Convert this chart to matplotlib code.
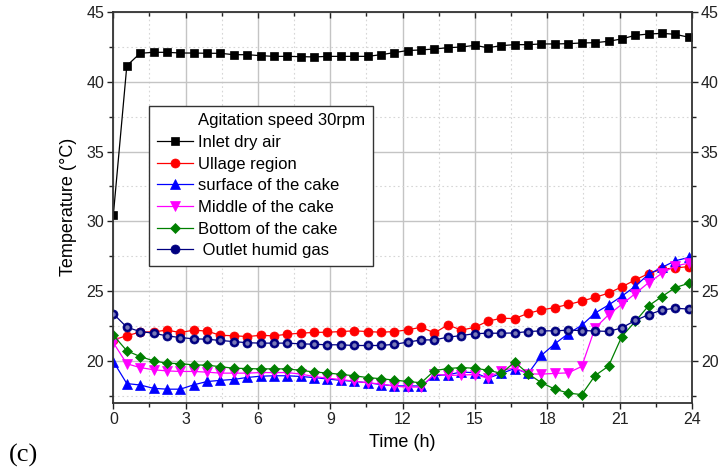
import numpy as np
import matplotlib
matplotlib.use("Agg")
import matplotlib.pyplot as plt
from matplotlib.lines import Line2D
from matplotlib.ticker import MultipleLocator

plt.rcParams['font.family'] = ['Liberation Sans', 'DejaVu Sans']

# sampling times (h)
time_h = [0.00, 0.56, 1.11, 1.67, 2.22, 2.78, 3.33, 3.89, 4.44, 5.00, 5.55,
          6.11, 6.66, 7.22, 7.77, 8.33, 8.88, 9.44, 9.99, 10.55, 11.10, 11.66,
          12.21, 12.77, 13.32, 13.88, 14.43, 14.99, 15.54, 16.10, 16.65, 17.21,
          17.76, 18.32, 18.87, 19.43, 19.98, 20.54, 21.09, 21.65, 22.20, 22.76,
          23.31, 23.87]

inlet_dry_air = [30.45, 41.15, 42.04, 42.11, 42.11, 42.06, 42.06, 42.04, 42.04,
                 41.94, 41.94, 41.87, 41.82, 41.82, 41.80, 41.78, 41.82, 41.82,
                 41.82, 41.82, 41.94, 42.09, 42.24, 42.28, 42.35, 42.44, 42.49,
                 42.61, 42.44, 42.59, 42.66, 42.66, 42.71, 42.71, 42.73, 42.78,
                 42.80, 42.90, 43.07, 43.33, 43.42, 43.47, 43.40, 43.19]

ullage_region = [21.50, 21.80, 22.06, 22.08, 22.20, 22.03, 22.20, 22.13, 21.83,
                 21.80, 21.74, 21.83, 21.79, 21.91, 21.98, 22.04, 22.05, 22.10,
                 22.15, 22.10, 22.05, 22.10, 22.22, 22.41, 22.00, 22.58, 22.20,
                 22.40, 22.85, 23.05, 23.03, 23.41, 23.65, 23.82, 24.04, 24.28,
                 24.55, 24.85, 25.30, 25.80, 26.25, 26.57, 26.65, 26.76]

cake_surface = [19.95, 18.37, 18.27, 18.03, 17.97, 17.97, 18.28, 18.52, 18.60,
                18.67, 18.81, 18.90, 18.93, 18.93, 18.88, 18.80, 18.70, 18.60,
                18.53, 18.43, 18.30, 18.21, 18.20, 18.20, 18.95, 19.00, 19.20,
                19.15, 18.76, 19.10, 19.45, 19.10, 20.40, 21.23, 21.95, 22.55,
                23.42, 24.00, 24.63, 25.35, 26.20, 26.70, 27.17, 27.41]

cake_middle = [21.30, 19.79, 19.52, 19.36, 19.28, 19.24, 19.24, 19.19, 19.12,
               19.12, 19.12, 19.16, 19.16, 19.16, 19.05, 18.88, 18.76, 18.66,
               18.55, 18.42, 18.35, 18.18, 18.12, 18.12, 19.06, 18.95, 18.98,
               19.02, 18.76, 19.30, 19.50, 19.07, 19.05, 19.10, 19.14, 19.60,
               22.35, 23.30, 24.05, 24.82, 25.60, 26.28, 26.80, 27.00]

cake_bottom = [21.84, 20.72, 20.31, 20.00, 19.83, 19.80, 19.71, 19.69, 19.58,
               19.47, 19.45, 19.42, 19.43, 19.42, 19.32, 19.20, 19.13, 19.03,
               18.93, 18.80, 18.72, 18.62, 18.52, 18.43, 19.30, 19.45, 19.52,
               19.47, 19.33, 19.10, 19.92, 19.07, 18.43, 17.97, 17.69, 17.58,
               18.94, 19.62, 21.74, 22.82, 23.94, 24.61, 25.25, 25.56]

outlet_humid_gas = [23.37, 22.41, 22.10, 21.98, 21.79, 21.67, 21.58, 21.55,
                    21.46, 21.38, 21.30, 21.27, 21.27, 21.27, 21.22, 21.19,
                    21.15, 21.15, 21.10, 21.10, 21.10, 21.19, 21.34, 21.50,
                    21.50, 21.70, 21.81, 21.95, 21.98, 21.98, 22.00, 22.10,
                    22.15, 22.15, 22.20, 22.17, 22.14, 22.11, 22.36, 22.90,
                    23.30, 23.65, 23.77, 23.71]

legend_title = "Agitation speed 30rpm"
series = [
    ("Inlet dry air", inlet_dry_air, "black", "s", 5.5),
    ("Ullage region", ullage_region, "#ff0000", "o", 6.5),
    ("surface of the cake", cake_surface, "#0000ff", "^", 7),
    ("Middle of the cake", cake_middle, "#ff00ff", "v", 7),
    ("Bottom of the cake", cake_bottom, "#008000", "D", 5.5),
    (" Outlet humid gas", outlet_humid_gas, "#000080", "o", 6.5),
]

fig = plt.figure(figsize=(7.2, 4.72), dpi=100)
ax = fig.add_axes([0.1574, 0.1468, 0.8036, 0.8278])

handles = [Line2D([], [], linestyle="none", marker="none", label=legend_title)]
for label, vals, color, marker, ms in series:
    line, = ax.plot(time_h, vals, color=color, lw=0.9, marker=marker,
                    markersize=ms, markerfacecolor=color, markeredgecolor=color,
                    markeredgewidth=0.5, label=label)
    handles.append(line)

# lighter centre on the outlet markers gives them a shaded look
ax.plot(time_h, outlet_humid_gas, linestyle="none", marker="o", markersize=2.2,
        color="#7a7ab8", zorder=3)

ax.set_xlim(0, 24)
ax.set_ylim(17, 45)
ax.xaxis.set_major_locator(MultipleLocator(3))
ax.xaxis.set_minor_locator(MultipleLocator(1.5))
ax.yaxis.set_major_locator(MultipleLocator(5))
ax.yaxis.set_minor_locator(MultipleLocator(2.5))

ax.grid(which="major", color="#c4c4c4", lw=1.0, zorder=0)
ax.grid(which="minor", color="#d6d6d6", lw=0.8, linestyle=(0, (1.5, 2.5)), zorder=0)
ax.set_axisbelow(True)

ax.tick_params(which="both", direction="out", top=True, right=True,
               labelright=True, labelsize=11.5, width=1.0, colors="#222222",
               pad=2)
ax.tick_params(which="major", length=4.5)
ax.tick_params(which="minor", length=3)
for tk in ax.xaxis.get_major_ticks() + ax.xaxis.get_minor_ticks():
    tk.tick2line.set_marker(3)
for spine in ax.spines.values():
    spine.set_linewidth(1.3)
    spine.set_color("#333333")

ax.set_xlabel("Time (h)", fontsize=13, labelpad=5)
ax.set_ylabel("Temperature (\u00b0C)", fontsize=13, labelpad=7)

leg = ax.legend(handles=handles, loc="upper left",
                bbox_to_anchor=(0.062, 0.76), frameon=True, fontsize=12,
                fancybox=False, edgecolor="#333333", framealpha=1,
                handlelength=2.2, handletextpad=0.3, labelspacing=0.4,
                borderpad=0.45, borderaxespad=0)
leg.get_frame().set_linewidth(1.0)

fig.text(0.012, 0.035, "(c)", fontsize=19, family="Liberation Serif",
         ha="left", va="center")

fig.savefig("out.png", dpi=100)
